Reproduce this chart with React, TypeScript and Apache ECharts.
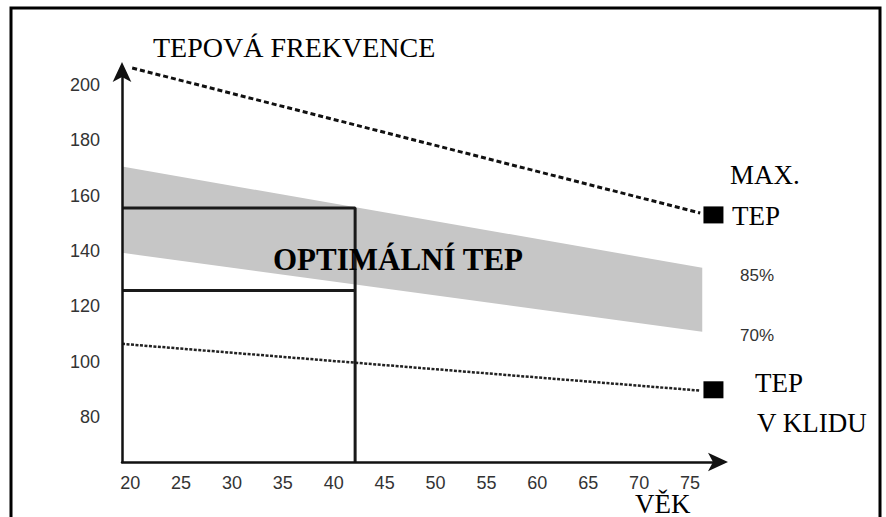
import React, { useEffect, useRef } from "react";
import * as echarts from "echarts";

// Age axis (VĚK) and heart-rate axis (TEPOVÁ FREKVENCE)
const ageTicks = [20, 25, 30, 35, 40, 45, 50, 55, 60, 65, 70, 75];
const hrTicks = [80, 100, 120, 140, 160, 180, 200];
const ageMin = 19.2;
const ageMax = 78.14;
const hrMin = 63.7;
const hrMax = 206.1;

// Maximal heart rate (dashed)
const maxAge = [20.2, 76.0];
const maxValue = [206.1, 153.7];
// Resting heart rate (dotted)
const restAge = [19.2, 76.0];
const restValue = [106.4, 89.5];
// 70 % – 85 % band
const bandAge = [19.2, 76.2];
const bandUpper = [170.5, 133.9];
const bandLower = [139.3, 110.8];
// end markers
const markerAge = [77.3, 77.3];
const markerValue = [153.0, 89.8];
// optimal zone box
const zoneAge = [19.2, 42.1];
const zoneUpper = 155.5;
const zoneLower = 125.7;

const SERIF = '"Liberation Serif", "Times New Roman", serif';
const SANS = '"Liberation Sans", Arial, sans-serif';

export default function App() {
  const ref = useRef<HTMLDivElement>(null);
  useEffect(() => {
    if (!ref.current) return;
    const chart = echarts.init(ref.current, undefined, { renderer: "svg" });
    const txt = (text: string, x: number, y: number, size: number, opts: any = {}) => ({
      type: "text",
      x,
      y,
      z: 20,
      silent: true,
      style: {
        text,
        fontSize: size,
        fontFamily: opts.family || SERIF,
        fontWeight: opts.weight || "normal",
        fill: opts.fill || "#000",
        align: "left",
        verticalAlign: "middle",
      },
    });
    const axisLine = {
      show: true,
      onZero: false,
      symbol: ["none", "arrow"],
      symbolSize: [14, 20],
      symbolOffset: [0, 6],
      lineStyle: { color: "#111", width: 2.5 },
    };
    chart.setOption({
      animation: false,
      backgroundColor: "#ffffff",
      grid: { left: 122, top: 68, width: 600, height: 394, outerBoundsMode: "none", containLabel: false },
      xAxis: {
        type: "value",
        min: ageMin,
        max: ageMax,
        z: 5,
        splitLine: { show: false },
        axisTick: { show: false },
        axisLine,
        axisLabel: {
          customValues: ageTicks,
          margin: 12,
          fontSize: 18,
          fontFamily: SANS,
          color: "#333",
        },
      },
      yAxis: {
        type: "value",
        min: hrMin,
        max: hrMax,
        z: 5,
        splitLine: { show: false },
        axisTick: { show: false },
        axisLine,
        axisLabel: {
          customValues: hrTicks,
          margin: 22,
          fontSize: 18,
          fontFamily: SANS,
          color: "#333",
        },
      },
      series: [
        {
          type: "custom",
          coordinateSystem: "cartesian2d",
          silent: true,
          z: 1,
          clip: false,
          data: [[bandAge[0], bandUpper[0]]],
          renderItem: (_p: any, api: any) => {
            const top = bandAge.map((a, i) => api.coord([a, bandUpper[i]]));
            const bot = bandAge.map((a, i) => api.coord([a, bandLower[i]])).reverse();
            return { type: "polygon", shape: { points: [...top, ...bot] }, style: { fill: "#c6c6c6" } };
          },
        },
        {
          type: "line",
          z: 2,
          clip: false,
          silent: true,
          symbol: "none",
          data: maxAge.map((a, i) => [a, maxValue[i]]),
          lineStyle: { color: "#111", width: 3, type: [5, 3] },
        },
        {
          type: "line",
          z: 2,
          clip: false,
          silent: true,
          symbol: "none",
          data: restAge.map((a, i) => [a, restValue[i]]),
          lineStyle: { color: "#222", width: 2.5, type: [3, 1.5] },
        },
        {
          type: "line",
          z: 3,
          clip: false,
          silent: true,
          symbol: "none",
          data: [
            [zoneAge[0], zoneUpper],
            [zoneAge[1], zoneUpper],
            [zoneAge[1], hrMin],
          ],
          lineStyle: { color: "#1a1a1a", width: 3 },
        },
        {
          type: "line",
          z: 3,
          clip: false,
          silent: true,
          symbol: "none",
          data: [
            [zoneAge[0], zoneLower],
            [zoneAge[1], zoneLower],
          ],
          lineStyle: { color: "#1a1a1a", width: 3 },
        },
        {
          type: "scatter",
          z: 4,
          clip: false,
          silent: true,
          symbol: "rect",
          symbolSize: [20, 17],
          itemStyle: { color: "#000", opacity: 1 },
          data: markerAge.map((a, i) => [a, markerValue[i]]),
        },
      ],
      graphic: [
        {
          type: "rect",
          silent: true,
          z: 30,
          shape: { x: 11, y: 8, width: 869, height: 540 },
          style: { fill: "none", stroke: "#000", lineWidth: 3 },
        },
        txt("TEPOVÁ FREKVENCE", 153, 47, 28),
        txt("MAX.", 730, 175, 27),
        txt("TEP", 732, 216, 27),
        txt("85%", 740, 275, 17, { family: SANS, fill: "#333" }),
        txt("70%", 740, 335, 17, { family: SANS, fill: "#333" }),
        txt("TEP", 755, 383, 27),
        txt("V KLIDU", 757, 423, 27),
        txt("VĚK", 635, 504, 27),
        txt("OPTIMÁLNÍ TEP", 273, 259, 31, { weight: "bold" }),
      ],
    });
    return () => chart.dispose();
  }, []);
  return (
    <div
      ref={ref}
      style={{ position: "fixed", left: 0, top: 0, width: 886, height: 517, background: "#fff" }}
    />
  );
}
